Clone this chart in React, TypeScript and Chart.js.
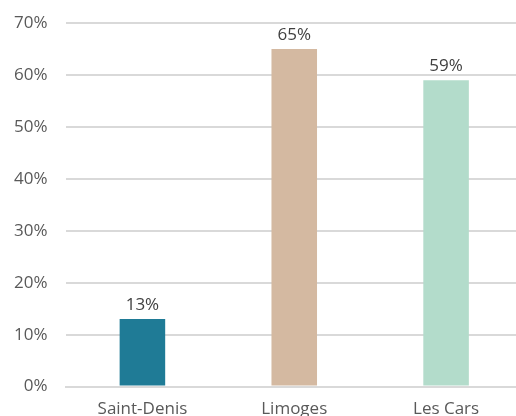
import React, { useEffect, useRef } from "react";
import { Chart, registerables } from "chart.js";

Chart.register(...registerables);

const categories = ["Saint-Denis", "Limoges", "Les Cars"];
const values = [13, 65, 59];
const barColors = ["#1F7B96", "#D4B9A1", "#B3DCCB"];
const yTicks = [0, 10, 20, 30, 40, 50, 60, 70];

const FONT = "'Open Sans', 'Liberation Sans', sans-serif";

const labelPlugin = {
  id: "valueLabels",
  afterDatasetsDraw(chart: any) {
    const { ctx } = chart;
    const meta = chart.getDatasetMeta(0);
    ctx.save();
    ctx.fillStyle = "#404040";
    ctx.font = `17px ${FONT}`;
    ctx.textAlign = "center";
    ctx.textBaseline = "alphabetic";
    meta.data.forEach((bar: any, i: number) => {
      ctx.fillText(`${values[i]}%`, bar.x, bar.y - 9);
    });
    ctx.restore();
  },
};

export default function App() {
  const ref = useRef<HTMLCanvasElement>(null);
  useEffect(() => {
    document.body.style.margin = "0";
    const chart = new Chart(ref.current!, {
      type: "bar",
      data: {
        labels: categories,
        datasets: [
          {
            data: values,
            backgroundColor: barColors,
            barPercentage: 0.3,
            categoryPercentage: 1,
          },
        ],
      },
      options: {
        animation: false,
        responsive: false,
        maintainAspectRatio: false,
        layout: { padding: { top: 23, right: 0, left: -5, bottom: 0 } },
        plugins: { legend: { display: false }, tooltip: { enabled: false } },
        scales: {
          x: {
            grid: { display: false, drawTicks: false },
            border: { display: true, color: "#D9D9D9", width: 2 },
            ticks: { color: "#595959", font: { family: FONT, size: 17 }, padding: 12 },
            afterFit: (axis: any) => {
              axis.paddingLeft = 0;
              axis.paddingRight = 0;
            },
          },
          y: {
            min: 0,
            max: 70,
            afterBuildTicks: (axis: any) => {
              axis.ticks = yTicks.map((v) => ({ value: v }));
            },
            afterFit: (axis: any) => {
              axis.paddingTop = 0;
              axis.paddingBottom = 0;
            },
            grid: { color: "#D9D9D9", lineWidth: 2, drawTicks: false },
            border: { display: false },
            ticks: {
              color: "#595959",
              font: { family: FONT, size: 17 },
              padding: 19,
              callback: (v: any) => `${v}%`,
            },
          },
        },
      },
      plugins: [labelPlugin],
    });
    return () => chart.destroy();
  }, []);
  return (
    <div style={{ position: "fixed", left: 0, top: 0, width: 516, height: 416, overflow: "hidden" }}>
      <canvas ref={ref} width={522} height={431} style={{ display: "block" }} />
    </div>
  );
}
